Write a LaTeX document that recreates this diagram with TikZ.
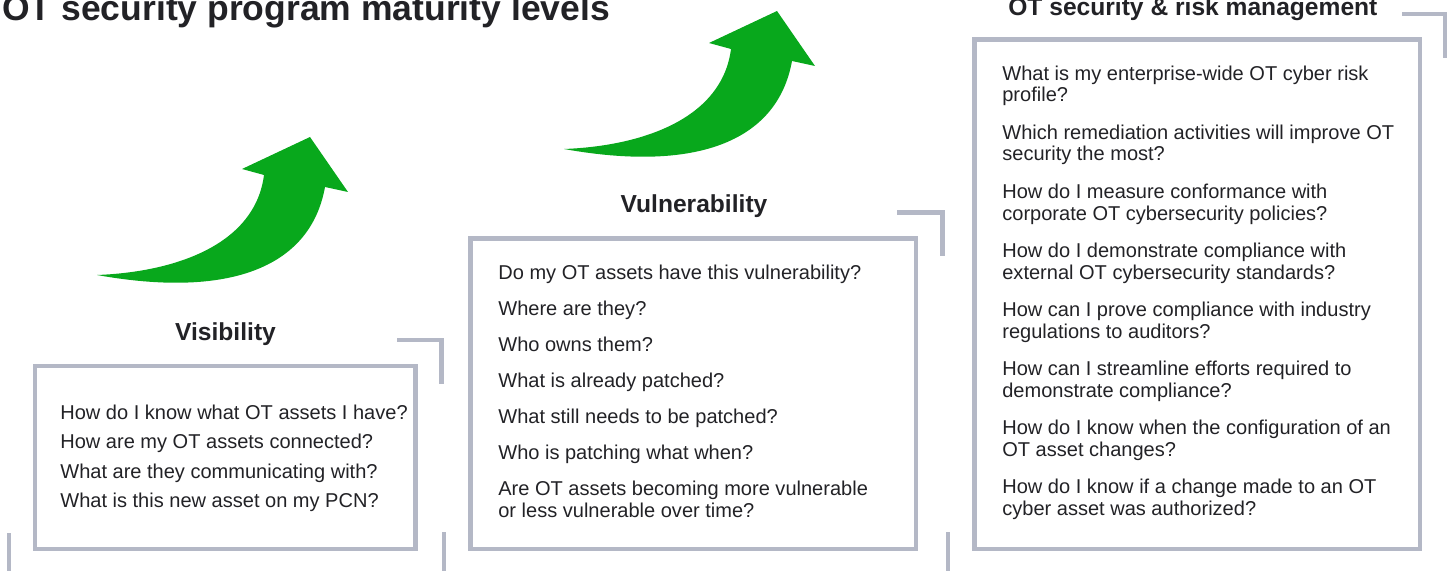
\documentclass[tikz,border=0pt]{standalone}
\usepackage{fontspec}
\setmainfont{Liberation Sans}
\usepackage{xcolor}
\usepackage{tikz}
\usetikzlibrary{positioning}

\definecolor{framegray}{RGB}{180,184,198}
\definecolor{arrowgreen}{RGB}{8,168,28}
\definecolor{txtgray}{RGB}{34,34,38}

\begin{document}
\begin{tikzpicture}[x=0.02cm,y=-0.02cm,
  question/.style={anchor=base west, inner sep=0, align=left, text=txtgray,
                   font=\fontsize{11.4}{12.5}\selectfont},
  heading/.style={anchor=base, inner sep=0, text=txtgray,
                  font=\fontsize{14}{16}\selectfont\bfseries},
  framebox/.style={draw=framegray, line width=2.8pt},
  frameline/.style={draw=framegray, line width=2.3pt}]

\useasboundingbox (0,0) rectangle (1448,571);

\node [anchor=base west, inner sep=0, text=txtgray, font=\fontsize{20.2}{22}\selectfont\bfseries] at (2,21) (title) {OT security program maturity levels};

% growth arrows
\fill [arrowgreen] (97,275) .. controls (175,272) and (255,245) .. (264,175) -- (242,169) -- (310,137) -- (348,192) -- (325,187) .. controls (310,270) and (225,298) .. cycle;
\fill [arrowgreen, shift={(467,-126)}] (97,275) .. controls (175,272) and (255,245) .. (264,175) -- (242,169) -- (310,137) -- (348,192) -- (325,187) .. controls (310,270) and (225,298) .. cycle;

% frame ticks
\draw [frameline] (9,533) -- (9,571);
\draw [frameline] (444,532) -- (444,571);
\draw [frameline] (948,532) -- (948,571);

% Visibility
\node [heading] at (225.5,340) (vis_head) {Visibility};
\draw [framebox] (35,366) rectangle (415.5,549);
\draw [frameline] (397,340) -- (441.5,340) -- (441.5,384);
\node [question] at (60,419)   (vis_q1) {How do I know what OT assets I have?};
\node [question] at (60,448.5) (vis_q2) {How are my OT assets connected?};
\node [question] at (60,478)   (vis_q3) {What are they communicating with?};
\node [question] at (60,507.5) (vis_q4) {What is this new asset on my PCN?};

% Vulnerability
\node [heading] at (694,213) (vuln_head) {Vulnerability};
\draw [framebox] (470.5,238.5) rectangle (916,549);
\draw [frameline] (897,212.5) -- (942.5,212.5) -- (942.5,256);
\node [question] at (498,279) (vuln_q1) {Do my OT assets have this vulnerability?};
\node [question] at (498,315) (vuln_q2) {Where are they?};
\node [question] at (498,351) (vuln_q3) {Who owns them?};
\node [question] at (498,387) (vuln_q4) {What is already patched?};
\node [question] at (498,423) (vuln_q5) {What still needs to be patched?};
\node [question] at (498,459) (vuln_q6) {Who is patching what when?};
% two-line nodes sit on their last line
\node [question] at (498,517) (vuln_q7) {Are OT assets becoming more vulnerable\\or less vulnerable over time?};

% OT security & risk management
\node [heading, anchor=base west] at (1008,16) (risk_head) {OT security \& risk management};
\draw [framebox] (974.5,39.5) rectangle (1420,549);
\draw [frameline] (1402,14) -- (1445,14) -- (1445,58);
\node [question] at (1002,102) (risk_q1) {What is my enterprise-wide OT cyber risk\\profile?};
\node [question] at (1002,161) (risk_q2) {Which remediation activities will improve OT\\security the most?};
\node [question] at (1002,220) (risk_q3) {How do I measure conformance with\\corporate OT cybersecurity policies?};
\node [question] at (1002,279) (risk_q4) {How do I demonstrate compliance with\\external OT cybersecurity standards?};
\node [question] at (1002,338) (risk_q5) {How can I prove compliance with industry\\regulations to auditors?};
\node [question] at (1002,397) (risk_q6) {How can I streamline efforts required to\\demonstrate compliance?};
\node [question] at (1002,456) (risk_q7) {How do I know when the configuration of an\\OT asset changes?};
\node [question] at (1002,515) (risk_q8) {How do I know if a change made to an OT\\cyber asset was authorized?};

\end{tikzpicture}
\end{document}
